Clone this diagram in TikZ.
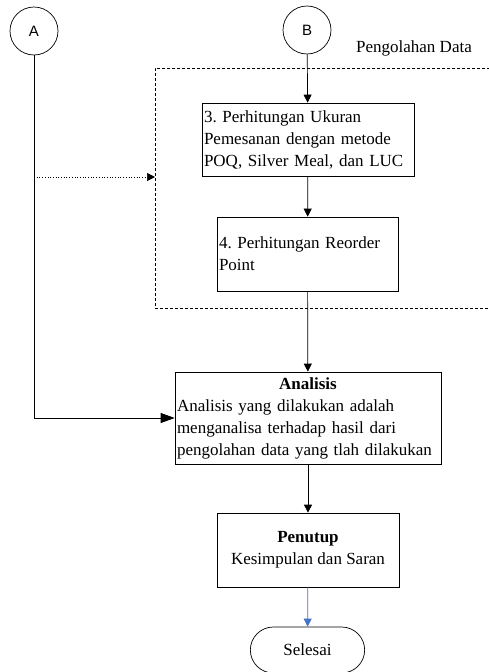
\documentclass[tikz,border=0pt]{standalone}
\usepackage{fontspec}
\setmainfont{Liberation Serif}
\setsansfont{Liberation Sans}
\usetikzlibrary{positioning,arrows.meta,shapes.misc}

\tikzset{
  konektor/.style={draw,circle,minimum size=48pt,inner sep=0pt,font=\sffamily\fontsize{15}{17}\selectfont},
  kotak/.style={draw,rectangle,inner sep=2pt,font=\frenchspacing\fontsize{17}{22}\selectfont},
  panah/.style={-{Triangle[length=8pt,width=8pt]}},
}

\begin{document}
\begin{tikzpicture}[x=1pt,y=-1pt,line width=0.7pt]
\useasboundingbox (0,0) rectangle (489,672);

\node[konektor](A) at (34,31){A};
\node[konektor](B) at (307,30){B};

\node[draw,dashed,dash pattern=on 3pt off 2pt,line width=0.5pt,rectangle,minimum width=360pt,minimum height=240pt,anchor=north west](pd) at (155,68){};
\node[font=\fontsize{17}{19}\selectfont](pdlabel) at (414,48){Pengolahan Data};

\node[kotak,minimum width=212pt,minimum height=73pt,text width=208pt,align=left](p3) at (308,139.5){3. Perhitungan Ukuran\\Pemesanan dengan metode\\POQ, Silver Meal, dan LUC};
\node[kotak,minimum width=181pt,minimum height=74pt,text width=177pt,align=left](p4) at (307.5,254){4. Perhitungan Reorder\\Point};

\node[kotak,minimum width=266pt,minimum height=92pt,text width=262pt,align=left](an) at (308,418){\makebox[262pt]{\textbf{Analisis}}\\Analisis yang dilakukan adalah\\menganalisa terhadap hasil dari\\pengolahan data yang tlah dilakukan};

\node[kotak,minimum width=182pt,minimum height=74pt,align=center](pt) at (308,550){\textbf{Penutup}\\Kesimpulan dan Saran};

\node[draw,rounded rectangle,minimum width=121pt,minimum height=46pt,font=\fontsize{17}{19}\selectfont](sl) at (307.5,650){Selesai};

\coordinate (aj) at (34,177);

\path (B) edge[panah] (p3);
\path (p3) edge[panah] (p4);
\path (p4) edge[panah] (an);
\path (an) edge[panah] (pt);
\path (pt) edge[panah,draw={rgb,255:red,68;green,114;blue,196},color={rgb,255:red,68;green,114;blue,196}] (sl);
\draw[-{Triangle[length=14pt,width=10pt]}] (A) -- (A |- an.west) -- (an.west);
\draw[dotted,-{Triangle[length=8pt,width=8pt]}] (aj) -- (pd.west |- aj);

\end{tikzpicture}
\end{document}
